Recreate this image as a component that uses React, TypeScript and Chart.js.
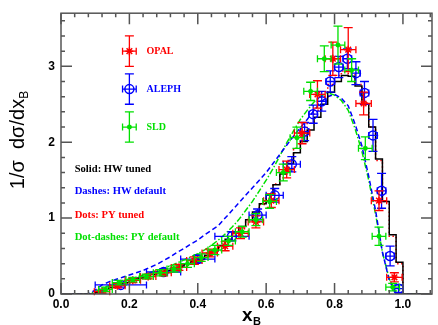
import React, { useEffect, useRef } from "react";
import { Chart, registerables } from "chart.js";

Chart.register(...registerables);

// ---------- theory curves (x grid in x_B) ----------
const curveX = [0.00,0.02,0.04,0.06,0.08,0.10,0.12,0.14,0.16,0.18,0.20,0.22,0.24,0.26,0.28,0.30,0.32,0.34,0.36,0.38,0.40,0.42,0.44,0.46,0.48,0.50,0.52,0.54,0.56,0.58,0.60,0.62,0.64,0.66,0.68,0.70,0.72,0.74,0.76,0.78,0.80,0.82,0.84,0.86,0.88,0.90,0.92,0.94,0.96,0.98,1.00,1.02,1.04,1.06,1.08];
const hwTuned = [0,0,0,0,0, 0.02,0.06,0.09,0.12,0.15, 0.18,0.21,0.23,0.26,0.29, 0.31,0.34,0.37,0.40,0.43, 0.46,0.51,0.57,0.64,0.72, 0.80,0.89,0.98,1.08,1.19, 1.31,1.44,1.58,1.72,1.86, 2.01,2.16,2.33,2.50,2.66, 2.80,2.88,2.87,2.74,2.50, 2.20,1.78,1.22,0.78,0.42, 0,0,0,0,0];
const hwDefault = [0,0,0,0,0, 0.05,0.12,0.16,0.19,0.22, 0.25,0.28,0.31,0.35,0.39, 0.44,0.49,0.55,0.60,0.66, 0.71,0.78,0.84,0.90,1.00, 1.10,1.20,1.30,1.40,1.50, 1.60,1.72,1.84,1.96,2.08, 2.19,2.30,2.42,2.53,2.60, 2.63,2.58,2.48,2.24,1.95, 1.55,1.10,0.55,0.18,0, 0,0,0,0,0];
const pyTuned = [0,0,0,0,0, 0.01,0.04,0.08,0.11,0.14, 0.17,0.20,0.22,0.25,0.28, 0.30,0.33,0.36,0.39,0.42, 0.45,0.49,0.55,0.61,0.69, 0.77,0.86,0.96,1.06,1.18, 1.31,1.45,1.60,1.76,1.92, 2.08,2.25,2.42,2.60,2.76, 2.88,2.94,2.90,2.76,2.52, 2.20,1.76,1.22,0.76,0.40, 0,0,0,0,0];
const pyDefault = [0,0,0,0,0, 0.03,0.08,0.11,0.14,0.17, 0.20,0.22,0.25,0.28,0.31, 0.34,0.37,0.41,0.45,0.49, 0.53,0.58,0.64,0.71,0.79, 0.88,0.98,1.10,1.22,1.36, 1.50,1.65,1.82,1.99,2.15, 2.30,2.42,2.53,2.61,2.65, 2.62,2.55,2.42,2.18,1.88, 1.50,1.05,0.55,0.20,0.02, 0,0,0,0,0];

// ---------- data ----------
const opalX = [0.12,0.165,0.21,0.255,0.30,0.345,0.39,0.435,0.48,0.525,0.57,0.615,0.66,0.705,0.75,0.795,0.84,0.885,0.93,0.975];
const opalY = [0.03,0.11,0.18,0.23,0.28,0.35,0.44,0.54,0.63,0.80,0.95,1.23,1.64,2.12,2.63,3.10,3.22,2.51,1.23,0.22];
const opalXErr = [0.0225,0.0225,0.0225,0.0225,0.0225,0.0225,0.0225,0.0225,0.0225,0.0225,0.0225,0.0225,0.0225,0.0225,0.0225,0.0225,0.0225,0.0225,0.0225,0.0225];
const opalYErr = [0.02,0.03,0.03,0.03,0.04,0.04,0.05,0.05,0.06,0.07,0.08,0.09,0.11,0.14,0.18,0.22,0.29,0.15,0.13,0.06];

const alephX = [0.175,0.30,0.40,0.50,0.575,0.625,0.675,0.7125,0.7375,0.7625,0.7875,0.8125,0.8375,0.8625,0.8875,0.9125,0.9375,0.9625,0.9875];
const alephY = [0.12,0.29,0.46,0.76,1.04,1.30,1.71,2.14,2.37,2.54,2.80,2.99,3.10,2.91,2.65,2.09,1.36,0.50,0.07];
const alephXErr = [0.075,0.05,0.05,0.05,0.025,0.025,0.025,0.0125,0.0125,0.0125,0.0125,0.0125,0.0125,0.0125,0.0125,0.0125,0.0125,0.0125,0.0125];
const alephYErr = [0.03,0.04,0.05,0.06,0.08,0.09,0.10,0.12,0.12,0.13,0.14,0.14,0.13,0.15,0.15,0.21,0.23,0.13,0.05];

const sldX = [0.13,0.17,0.21,0.25,0.29,0.33,0.37,0.41,0.45,0.49,0.53,0.57,0.61,0.65,0.69,0.73,0.77,0.81,0.85,0.89,0.93,0.97];
const sldY = [0.06,0.15,0.19,0.23,0.28,0.33,0.40,0.48,0.58,0.70,0.82,0.98,1.22,1.60,2.06,2.67,3.10,3.28,2.95,1.92,0.76,0.09];
const sldXErr = [0.02,0.02,0.02,0.02,0.02,0.02,0.02,0.02,0.02,0.02,0.02,0.02,0.02,0.02,0.02,0.02,0.02,0.02,0.02,0.02,0.02,0.02];
const sldYErr = [0.03,0.03,0.03,0.03,0.04,0.04,0.05,0.05,0.06,0.06,0.07,0.08,0.09,0.11,0.14,0.12,0.17,0.25,0.15,0.15,0.12,0.05];

// ---------- key (drawn in data coordinates, as in the original) ----------
const keyLabels = ["OPAL", "ALEPH", "SLD"];
const keyX = [0.2, 0.2, 0.2];
const keyY = [3.2, 2.7, 2.2];
const keyXErr = [0.02, 0.02, 0.02];
const keyYErr = [0.2, 0.2, 0.2];
const keyTextX = 0.25;
const curveLabels = ["Solid: HW tuned", "Dashes: HW default", "Dots: PY tuned", "Dot-dashes: PY default"];
const curveLabelX = 0.04;
const curveLabelY = [1.65, 1.35, 1.04, 0.75];

// ---------- axes ----------
const xTicks = [0.0, 0.2, 0.4, 0.6, 0.8, 1.0];
const yTicks = [0, 1, 2, 3];
const X_MIN = 0, X_MAX = 1.085, Y_MIN = 0, Y_MAX = 3.7;

const RED = "#ff0000", BLUE = "#0000ff", GREEN = "#00e000", BLACK = "#000000";

const pts = (xs: number[], ys: number[]) => xs.map((x, i) => ({ x, y: ys[i] }));

const errorBarPlugin = {
  id: "errorBars",
  beforeDatasetDraw(chart: any, args: any) {
    const ds = chart.data.datasets[args.index];
    if (!ds.xErr) return;
    const xs = chart.scales.x, ys = chart.scales.y, ctx = chart.ctx;
    ctx.save();
    ctx.strokeStyle = ds.borderColor;
    ctx.lineWidth = 1.3;
    ds.data.forEach((p: any, i: number) => {
      const px = xs.getPixelForValue(p.x), py = ys.getPixelForValue(p.y);
      const x1 = xs.getPixelForValue(p.x - ds.xErr[i]);
      const x2 = xs.getPixelForValue(p.x + ds.xErr[i]);
      const y1 = ys.getPixelForValue(p.y - ds.yErr[i]);
      const y2 = ys.getPixelForValue(p.y + ds.yErr[i]);
      ctx.beginPath();
      ctx.moveTo(x1, py); ctx.lineTo(x2, py);
      ctx.moveTo(px, y1); ctx.lineTo(px, y2);
      ctx.moveTo(x1, py - 3.5); ctx.lineTo(x1, py + 3.5);
      ctx.moveTo(x2, py - 3.5); ctx.lineTo(x2, py + 3.5);
      ctx.moveTo(px - 4.5, y1); ctx.lineTo(px + 4.5, y1);
      ctx.moveTo(px - 4.5, y2); ctx.lineTo(px + 4.5, y2);
      ctx.stroke();
    });
    ctx.restore();
  },
};

const framePlugin = {
  id: "frame",
  afterDraw(chart: any) {
    const { ctx, chartArea: a } = chart;
    const xs = chart.scales.x, ys = chart.scales.y;
    ctx.save();
    ctx.strokeStyle = "#555";
    ctx.lineWidth = 1.5;
    ctx.strokeRect(a.left, a.top, a.right - a.left, a.bottom - a.top);
    ctx.beginPath();
    for (let i = 0; i <= 27; i++) {
      const v = i * 0.04;
      if (v > X_MAX) break;
      const px = xs.getPixelForValue(v);
      const len = i % 5 === 0 ? 11 : 4;
      ctx.moveTo(px, a.bottom); ctx.lineTo(px, a.bottom - len);
      ctx.moveTo(px, a.top); ctx.lineTo(px, a.top + len);
    }
    for (let i = 0; i <= 18; i++) {
      const v = i * 0.2;
      if (v > Y_MAX) break;
      const py = ys.getPixelForValue(v);
      const len = i % 5 === 0 ? 11 : 4;
      ctx.moveTo(a.left, py); ctx.lineTo(a.left + len, py);
      ctx.moveTo(a.right, py); ctx.lineTo(a.right - len, py);
    }
    ctx.stroke();

    // axis titles
    ctx.fillStyle = "#000";
    ctx.textBaseline = "alphabetic";
    ctx.textAlign = "left";
    ctx.font = 'bold 19px "Liberation Sans", Arial, sans-serif';
    ctx.fillText("x", 242, 321);
    ctx.font = 'bold 11px "Liberation Sans", Arial, sans-serif';
    ctx.fillText("B", 253, 325);

    ctx.save();
    ctx.translate(24, 140);
    ctx.rotate(-Math.PI / 2);
    ctx.font = '20px "Liberation Sans", Arial, sans-serif';
    const main = "1/\u03c3  d\u03c3/dx";
    const w = ctx.measureText(main).width;
    ctx.font = '12px "Liberation Sans", Arial, sans-serif';
    const wb = ctx.measureText("B").width;
    const start = -(w + wb) / 2;
    ctx.font = '20px "Liberation Sans", Arial, sans-serif';
    ctx.fillText(main, start, 0);
    ctx.font = '12px "Liberation Sans", Arial, sans-serif';
    ctx.fillText("B", start + w, 4);
    ctx.restore();

    // key texts
    ctx.textBaseline = "middle";
    ctx.font = 'bold 10px "Liberation Serif", "Times New Roman", serif';
    const keyColors = [RED, BLUE, GREEN];
    keyLabels.forEach((t, i) => {
      ctx.fillStyle = keyColors[i];
      ctx.fillText(t, xs.getPixelForValue(keyTextX), ys.getPixelForValue(keyY[i]));
    });
    ctx.font = 'bold 10.6px "Liberation Serif", "Times New Roman", serif';
    const curveColors = [BLACK, BLUE, RED, GREEN];
    curveLabels.forEach((t, i) => {
      ctx.fillStyle = curveColors[i];
      ctx.fillText(t, xs.getPixelForValue(curveLabelX), ys.getPixelForValue(curveLabelY[i]));
    });
    ctx.restore();
  },
};

export default function App() {
  const ref = useRef<HTMLCanvasElement | null>(null);
  useEffect(() => {
    document.body.style.margin = "0";
    const canvas = ref.current!;
    const lineDs = (label: string, ys: number[], color: string, dash: number[], stepped: boolean, order: number) => ({
      type: "line",
      label,
      data: pts(curveX, ys),
      borderColor: color,
      backgroundColor: color,
      borderWidth: 1.5,
      borderDash: dash,
      stepped,
      pointRadius: 0,
      fill: false,
      tension: 0,
      order,
    });
    const dataDs = (label: string, xs: number[], ys: number[], xe: number[], ye: number[], color: string, style: string, r: number, order: number, fillBg: boolean) => ({
      type: "scatter",
      label,
      data: pts(xs, ys),
      xErr: xe,
      yErr: ye,
      borderColor: color,
      backgroundColor: fillBg ? color : "rgba(0,0,0,0)",
      pointStyle: style,
      pointRadius: r,
      pointBorderWidth: 1.5,
      showLine: false,
      order,
    });
    const chart = new Chart(canvas, {
      type: "line",
      data: {
        datasets: [
          lineDs("HW tuned", hwTuned, BLACK, [], true, 10),
          lineDs("HW default", hwDefault, BLUE, [5, 3], false, 11),
          lineDs("PY tuned", pyTuned, RED, [1.5, 2.5], true, 12),
          lineDs("PY default", pyDefault, GREEN, [6, 2, 1.5, 2], false, 13),
          dataDs("ALEPH", alephX, alephY, alephXErr, alephYErr, BLUE, "circle", 4.5, 5, false),
          dataDs("OPAL", opalX, opalY, opalXErr, opalYErr, RED, "star", 4, 4, false),
          dataDs("SLD", sldX, sldY, sldXErr, sldYErr, GREEN, "star", 2.5, 3, true),
          dataDs("OPAL key", [keyX[0]], [keyY[0]], [keyXErr[0]], [keyYErr[0]], RED, "star", 4, 2, false),
          dataDs("ALEPH key", [keyX[1]], [keyY[1]], [keyXErr[1]], [keyYErr[1]], BLUE, "circle", 4.5, 2, false),
          dataDs("SLD key", [keyX[2]], [keyY[2]], [keyXErr[2]], [keyYErr[2]], GREEN, "star", 2.5, 2, true),
        ] as any,
      },
      options: {
        responsive: false,
        devicePixelRatio: 1,
        animation: false,
        layout: { padding: { top: 7, right: 3, left: 0, bottom: 0 } },
        plugins: { legend: { display: false }, tooltip: { enabled: false } },
        scales: {
          x: {
            type: "linear",
            min: X_MIN,
            max: X_MAX,
            position: "bottom",
            afterFit: (s: any) => { s.height = 31; },
            afterBuildTicks: (s: any) => { s.ticks = xTicks.map((v) => ({ value: v })); },
            grid: { display: false, drawTicks: false },
            border: { display: false },
            ticks: {
              padding: 3,
              maxRotation: 0,
              autoSkip: false,
              color: "#000",
              font: { family: '"Liberation Sans", Arial, sans-serif', size: 12, weight: "bold" },
              callback: (v: any) => Number(v).toFixed(1),
            },
          },
          y: {
            type: "linear",
            min: Y_MIN,
            max: Y_MAX,
            afterFit: (s: any) => { s.width = 61; },
            afterBuildTicks: (s: any) => { s.ticks = yTicks.map((v) => ({ value: v })); },
            grid: { display: false, drawTicks: false },
            border: { display: false },
            ticks: {
              padding: 6,
              color: "#000",
              font: { family: '"Liberation Sans", Arial, sans-serif', size: 12, weight: "bold" },
              callback: (v: any) => String(v),
            },
          },
        },
      } as any,
      plugins: [errorBarPlugin, framePlugin],
    });
    return () => chart.destroy();
  }, []);
  return (
    <canvas
      ref={ref}
      width={438}
      height={325}
      style={{ position: "absolute", left: 0, top: 0, width: 438, height: 325 }}
    />
  );
}
